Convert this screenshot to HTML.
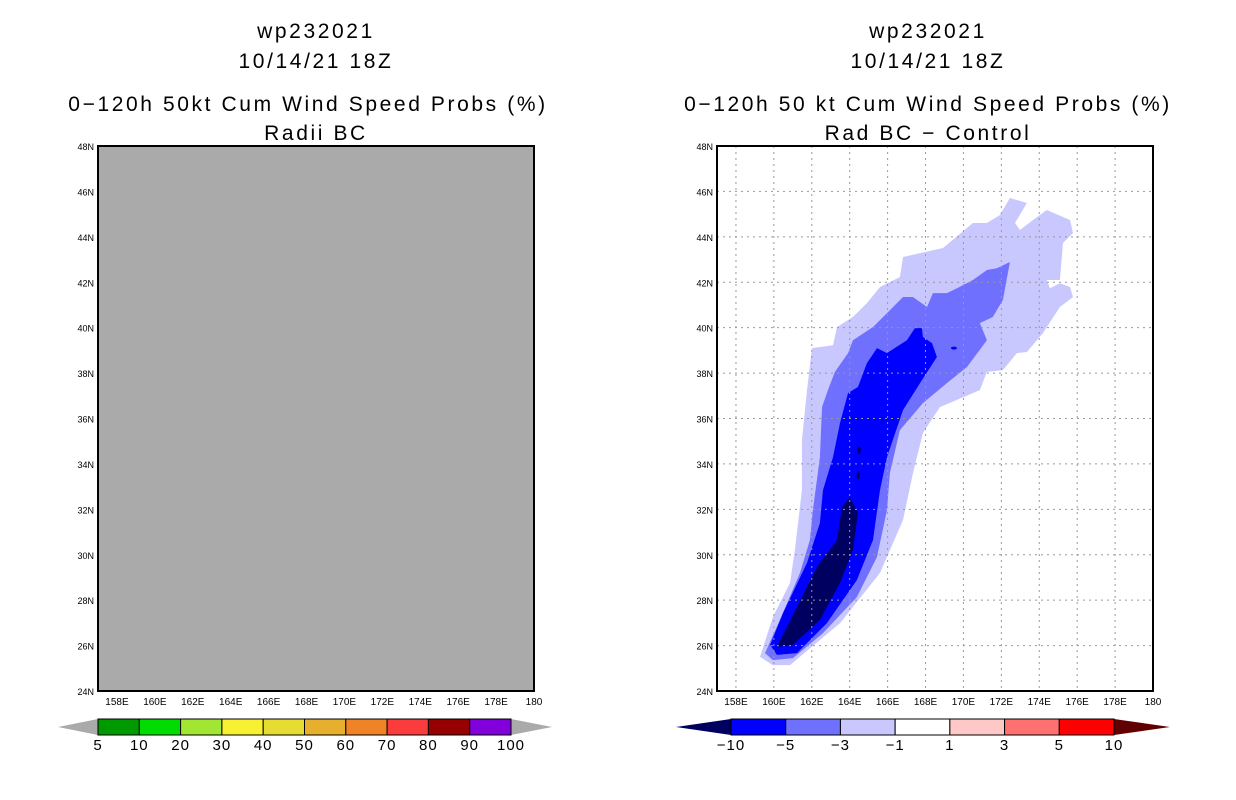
<!DOCTYPE html>
<html><head><meta charset="utf-8">
<style>
html,body{margin:0;padding:0;background:#fff;}
svg{display:block;font-family:"Liberation Sans",sans-serif;}
</style></head>
<body>
<svg id="chart" width="1236" height="800" viewBox="0 0 1236 800" xmlns="http://www.w3.org/2000/svg">
<g font-size="21" text-anchor="middle" fill="#000" letter-spacing="2.6">
<text x="316" y="38">wp232021</text>
<text x="316" y="68">10/14/21 18Z</text>
<text x="308" y="111">0−120h 50kt Cum Wind Speed Probs (%)</text>
<text x="316" y="140">Radii BC</text>
</g>
<g font-size="21" text-anchor="middle" fill="#000" letter-spacing="2.6">
<text x="928" y="38">wp232021</text>
<text x="928" y="68">10/14/21 18Z</text>
<text x="928" y="111">0−120h 50 kt Cum Wind Speed Probs (%)</text>
<text x="928" y="140">Rad BC − Control</text>
</g>
<g id="left"></g>
<g id="right"></g>
<g id="cbars"></g>
</svg>
<script>
const lonTicks=[158,160,162,164,166,168,170,172,174,176,178,180];
const latTicks=[24,26,28,30,32,34,36,38,40,42,44,46,48];
const leftBins=["5","10","20","30","40","50","60","70","80","90","100"];
const leftColors=["#009a00","#00dc00","#a0e632","#f8f032","#e6dc32","#e6af2d","#f08228","#fa3c3c","#960000","#8200dc"];
const rightBins=["−10","−5","−3","−1","1","3","5","10"];
const rightColors=["#0000ff","#7070ff","#c8c8ff","#ffffff","#ffc8c8","#ff7070","#ff0000"];
// contour polygons (lon, lat)
const lvlM1=[[159.27,25.50],[159.95,25.14],[160.85,25.14],[163.49,26.99],[165.60,29.20],[166.81,31.53],[167.34,33.60],[167.86,35.36],[168.76,36.50],[170.87,37.25],[171.24,38.05],[172.08,38.13],[172.82,38.88],[173.35,38.93],[174.19,39.76],[175.09,40.91],[175.78,41.35],[175.62,41.79],[175.09,41.96],[174.56,41.74],[174.40,42.10],[175.09,42.10],[175.25,43.73],[175.78,44.17],[175.62,44.74],[174.40,45.18],[173.67,44.74],[172.98,44.30],[172.72,44.61],[173.35,45.49],[172.45,45.71],[171.93,44.96],[171.24,44.61],[170.50,44.61],[168.92,43.51],[166.81,43.11],[166.65,42.23],[165.60,41.79],[164.91,41.08],[164.17,40.47],[163.33,40.03],[163.12,39.23],[162.01,39.10],[161.75,37.25],[161.48,35.05],[161.48,32.85],[161.11,30.21],[160.85,28.76],[159.95,27.26]];
const lvlM3=[[159.53,25.67],[159.95,25.36],[161.01,25.45],[162.59,26.55],[164.38,28.14],[165.44,29.90],[165.97,31.97],[166.12,33.60],[166.65,35.49],[167.86,36.68],[169.13,37.56],[170.19,38.27],[171.24,39.45],[170.87,40.20],[171.55,40.47],[172.08,41.22],[172.45,42.89],[171.76,42.62],[171.24,42.54],[170.50,42.10],[169.66,41.74],[169.13,41.52],[168.39,41.52],[168.08,40.91],[167.34,41.35],[166.81,41.35],[165.97,40.64],[165.23,40.03],[164.17,39.45],[163.91,38.88],[163.22,38.05],[162.85,37.25],[162.54,36.50],[162.43,34.30],[162.06,31.97],[161.90,30.65],[161.38,29.20],[160.32,27.13]];
const lvlM5=[[159.80,26.03],[160.16,25.59],[161.22,25.67],[162.80,26.99],[164.38,28.89],[165.23,30.65],[165.60,32.85],[165.97,34.30],[166.81,36.37],[167.71,37.56],[168.60,38.71],[168.34,39.32],[167.86,39.59],[167.81,39.98],[167.44,39.98],[167.02,39.45],[165.97,38.88],[165.44,39.10],[164.91,38.44],[164.44,37.39],[163.91,37.12],[163.49,35.80],[163.12,34.30],[162.59,32.85],[162.43,31.40],[161.75,29.64],[160.48,27.43]];
const lvlM10=[[160.16,25.94],[161.01,26.03],[162.43,27.13],[163.49,28.76],[164.17,30.21],[164.44,31.84],[164.01,32.54],[163.59,32.10],[163.33,30.65],[162.27,29.46],[161.22,27.70]];
const specksDark=[[164.5,34.6],[164.45,33.5]];
const specksBlue=[[169.5,39.1]];

const NS="http://www.w3.org/2000/svg";
function mk(tag,attrs,parent){const e=document.createElementNS(NS,tag);for(const k in attrs)e.setAttribute(k,attrs[k]);parent.appendChild(e);return e;}
const Y0=146,Y1=691,LON0=157,LON1=180,LAT0=24,LAT1=48;
function makeX(x0,x1){return lon=>x0+(lon-LON0)/(LON1-LON0)*(x1-x0);}
function yS(lat){return Y1-(lat-LAT0)/(LAT1-LAT0)*(Y1-Y0);}

function drawPanel(g,x0,x1,filled){
  const xS=makeX(x0,x1);
  if(filled){
    const r=mk('rect',{x:x0,y:Y0,width:x1-x0,height:Y1-Y0,fill:'#aaaaaa'},g);
    
    
  } else {
    const levels=[[lvlM1,'#c8c8ff','contour-minus1'],[lvlM3,'#7070ff','contour-minus3'],[lvlM5,'#0000ff','contour-minus5'],[lvlM10,'#000060','contour-minus10']];
    levels.forEach(([pts,c,n])=>{
      const p=mk('polygon',{points:pts.map(q=>xS(q[0]).toFixed(1)+','+yS(q[1]).toFixed(1)).join(' '),fill:c},g);
      
      
    });
    specksDark.forEach(q=>{const e=mk('ellipse',{cx:xS(q[0]),cy:yS(q[1]),rx:1.5,ry:4,fill:'#000060'},g);
      
      });
    specksBlue.forEach(q=>{const e=mk('ellipse',{cx:xS(q[0]),cy:yS(q[1]),rx:3,ry:1.5,fill:'#0000ff'},g);
      
      });
    lonTicks.forEach(l=>{if(l>=LON1)return;const gl=mk('line',{x1:xS(l),x2:xS(l),y1:Y0,y2:Y1,stroke:'#999','stroke-width':1,'stroke-dasharray':'2,4'},g);
      
      });
    latTicks.forEach(l=>{if(l<=LAT0||l>=LAT1)return;const gl=mk('line',{x1:x0,x2:x1,y1:yS(l),y2:yS(l),stroke:'#999','stroke-width':1,'stroke-dasharray':'2,4'},g);
      
      });
  }
  const f=mk('rect',{x:x0,y:Y0,width:x1-x0,height:Y1-Y0,fill:'none',stroke:'#000','stroke-width':2},g);
  
  
  lonTicks.forEach(l=>{
    const t=mk('text',{x:xS(l),y:Y1+14,'font-size':10,'text-anchor':'middle'},g);t.textContent=l===180?'180':l+'E';
    
    
  });
  latTicks.forEach(l=>{
    const t=mk('text',{x:x0-4,y:yS(l)+4,'font-size':9,'text-anchor':'end'},g);t.textContent=l+'N';
    
    
  });
}
drawPanel(document.getElementById('left'),98,534,true);
drawPanel(document.getElementById('right'),717,1153,false);

function colorbar(g,tipL,bx0,bx1,tipR,colors,labels,lc,rc){
  const yT=719,yB=735,ym=727,n=colors.length,w=(bx1-bx0)/n;
  const a=mk('polygon',{points:`${tipL},${ym} ${bx0},${yT} ${bx0},${yB}`,fill:lc},g);
  
  
  const b=mk('polygon',{points:`${tipR},${ym} ${bx1},${yT} ${bx1},${yB}`,fill:rc},g);
  
  
  colors.forEach((c,i)=>{
    const r=mk('rect',{x:bx0+i*w,y:yT,width:w,height:yB-yT,fill:c,stroke:'#000','stroke-width':1},g);
    
    
  });
  labels.forEach((s,i)=>{
    const t=mk('text',{x:bx0+i*w,y:yB+15,'font-size':15,'text-anchor':'middle','letter-spacing':1},g);t.textContent=s;
    
    
  });
}
const cb=document.getElementById('cbars');
colorbar(cb,58,98,511,552,leftColors,leftBins,'#aaaaaa','#aaaaaa');
colorbar(cb,676,731,1114,1170,rightColors,rightBins,'#000060','#600000');
</script>
</body></html>
